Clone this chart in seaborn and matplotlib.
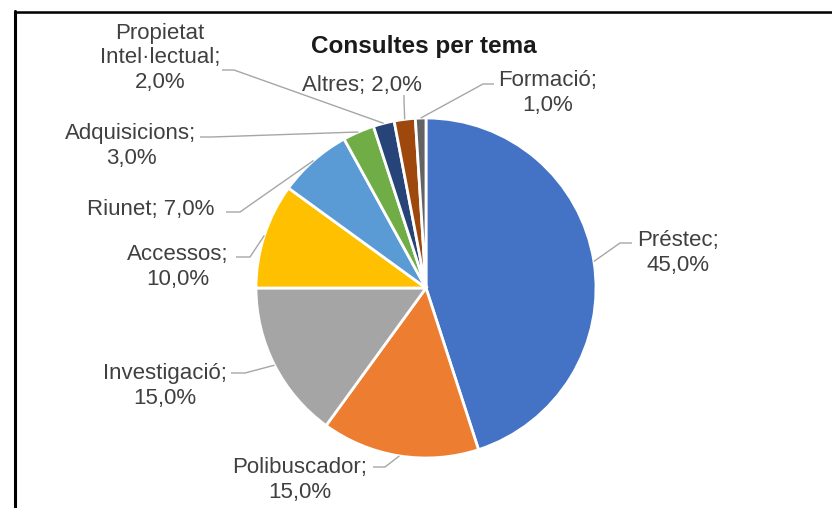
"""Consultes per tema: pie chart with Excel-style leader lines."""

import numpy as np
import matplotlib as mpl
import matplotlib.pyplot as plt
import seaborn as sns

sns.set_theme(style="white")
mpl.rcParams["font.family"] = ["Liberation Sans", "DejaVu Sans"]

# ── data ──────────────────────────────────────────────────────────────────────
temes = ["Préstec", "Polibuscador", "Investigació", "Accessos", "Riunet",
         "Adquisicions", "Propietat\nIntel·lectual", "Altres", "Formació"]
percent = [45.0, 15.0, 15.0, 10.0, 7.0, 3.0, 2.0, 2.0, 1.0]
colors = ["#4472C4", "#ED7D31", "#A5A5A5", "#FFC000", "#5B9BD5",
          "#70AD47", "#264478", "#9E480E", "#636363"]

# label text templates (how Excel wrapped each label)
label_fmt = ["{n};\n{v}", "{n};\n{v}", "{n};\n{v}", "{n};\n{v}", "{n}; {v}",
             "{n};\n{v}", "{n};\n{v}", "{n}; {v}", "{n};\n{v}"]

# ── layout (pixel coords, y down) ─────────────────────────────────────────────
CX, CY, R = 426, 288, 170
label_xy = [(678, 253), (300, 480), (165, 386), (178, 267), (151, 209),
            (131, 146), (160, 58), (362, 85), (548, 93)]
leader_start = [(632, 243), (373, 467), (231, 373), (236, 257), (226, 212),
                (200, 137), (222, 70), (404, 95), (494, 84)]
leader_elbow = [(620, 243), (385, 467), (245, 373), (250, 257), (240, 212),
                (212, 137), (234, 70), (404, 100), (483, 84)]

TEXT = "#404040"
LEADER = "#A6A6A6"

fig = plt.figure(figsize=(8.32, 5.08), dpi=100)
ax = fig.add_axes([0, 0, 1, 1])

# y axis inverted -> counterclock in data reads clockwise on screen
ax.pie(percent, colors=colors, center=(CX, CY), radius=R,
       startangle=-90, counterclock=True,
       wedgeprops=dict(edgecolor="white", linewidth=2))
ax.set_xlim(0, 832)
ax.set_ylim(508, 0)
ax.set_aspect("auto")
ax.axis("off")

# labels + leader lines
cum = np.cumsum(percent) - np.array(percent) / 2
for i, name in enumerate(temes):
    val = f"{percent[i]:.1f}".replace(".", ",") + "%"
    txt = label_fmt[i].format(n=name, v=val)
    ax.text(*label_xy[i], txt, ha="center", va="center", multialignment="center",
            fontsize=16, color=TEXT, linespacing=1.22)
    theta = np.deg2rad(-90 + 360 * cum[i] / 100)
    ex, ey = CX + R * np.cos(theta), CY + R * np.sin(theta)
    sx, sy = leader_start[i]
    bx, by = leader_elbow[i]
    ax.plot([sx, bx, ex], [sy, by, ey], color=LEADER, lw=1, solid_capstyle="butt")

ax.text(424, 47, "Consultes per tema", ha="center", va="center",
        fontsize=17.5, fontweight="bold", color="#1a1a1a")

# chart frame (only top/left edges fall inside the crop)
ax.plot([16, 832], [13, 13], color="#dddddd", lw=1.5)
ax.plot([16, 16], [13, 508], color="#dddddd", lw=1.5)
ax.plot([15, 832], [11.5, 11.5], color="black", lw=1.8)
ax.plot([15, 15], [11, 508], color="black", lw=2.2)

fig.savefig("out.png", dpi=100)
